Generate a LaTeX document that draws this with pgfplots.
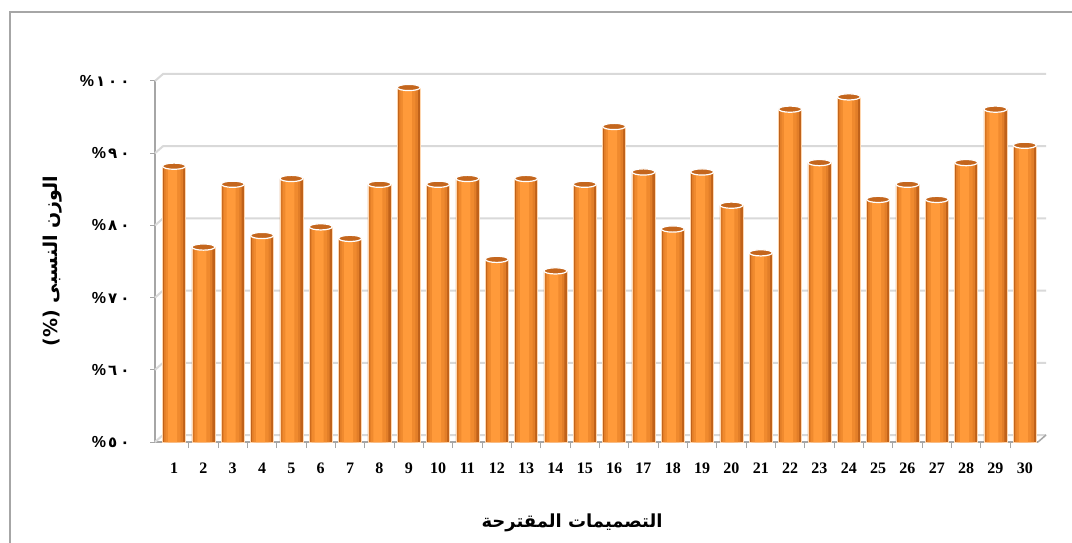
\documentclass[border=0pt]{standalone}
\usepackage{pgfplots}
\pgfplotsset{compat=1.18}
\usepackage{fontspec}
\setmainfont{Liberation Serif}
\newfontfamily\arabicfont[Script=Arabic]{DejaVu Sans}
\newfontfamily\pctfont{Liberation Sans}
\TeXXeTstate=1
\definecolor{barlight}{HTML}{FF9A3A}
\definecolor{barmid}{HTML}{F08A2E}
\definecolor{bardark}{HTML}{C0621A}
\definecolor{bartop}{HTML}{C4661D}
\definecolor{gridgray}{HTML}{D9D9D9}
\definecolor{axisgray}{HTML}{A6A6A6}
% percent sign, then spaced Arabic-Indic digits
\newcommand\pct[1]{\hbox{\pctfont\bfseries\fontsize{16}{16}\selectfont\%}\kern2pt\pctdigits#1\relax}
\def\pctdigits#1{\ifx#1\relax\else\hbox{\arabicfont\bfseries\fontsize{15}{15}\selectfont#1}\kern3pt\expandafter\pctdigits\fi}
\pgfplotstableread{
x y
1 88.2
2 77.0
3 85.7
4 78.6
5 86.5
6 79.8
7 78.2
8 85.7
9 99.1
10 85.7
11 86.5
12 75.3
13 86.5
14 73.7
15 85.7
16 93.7
17 87.4
18 79.5
19 87.4
20 82.8
21 76.2
22 96.1
23 88.7
24 97.8
25 83.6
26 85.7
27 83.6
28 88.7
29 96.1
30 91.1
}\weights
\begin{document}
\begin{tikzpicture}[x=1pt,y=1pt]
\useasboundingbox (0,0) rectangle (1072,542);
\fill[white] (0,0) rectangle (1072,542);
\draw[axisgray, line width=1.2pt] (10,-5) -- (10,530) -- (1080,530);
\begin{axis}[
    at={(155pt,100pt)}, anchor=south west,
    scale only axis,
    width=883pt, height=361pt,
    xmin=0.35, xmax=30.45,
    ymin=50, ymax=100,
    clip mode=individual,
    axis x line*=bottom, axis y line*=left,
    axis line style={axisgray, line width=1.5pt, -},
    xtick={1,...,30},
    xticklabels={1,2,3,4,5,6,7,8,9,10,11,12,13,14,15,16,17,18,19,20,21,22,23,24,25,26,27,28,29,30},
    minor x tick num=1,
    ytick={50,60,...,100},
    yticklabels={{\pct{٥٠}},{\pct{٦٠}},{\pct{٧٠}},{\pct{٨٠}},{\pct{٩٠}},{\pct{١٠٠}}},
    tick align=outside,
    major tick length=5pt,
    minor tick length=6pt,
    x tick style={draw=none},
    minor x tick style={axisgray, line width=1pt, draw=axisgray},
    y tick style={axisgray, line width=1pt},
    xticklabel style={font=\fontsize{16}{16}\selectfont\bfseries, yshift=-12pt},
    yticklabel style={xshift=-14pt},
    ybar, bar width=23pt,
  ]
  \pgfplotsinvokeforeach{50,60,...,100}{
    \draw[gridgray, line width=2pt]
      (axis cs:0.35,#1) -- ([shift={(8pt,7pt)}]axis cs:0.35,#1)
      -- ([shift={(8pt,7pt)}]axis cs:30.45,#1);
  }
  \draw[axisgray, line width=1.5pt] (axis cs:30.45,50) -- ++(8pt,7pt);
  % cylinder body built from strips: dark edges, light centre
  \addplot[draw=white!60!barlight, line width=0.5pt, fill=bardark,
           bar width=23pt, bar shift=0pt] table {\weights};
  \addplot[draw=none, fill=barmid!70!bardark, bar width=19pt, bar shift=-0.5pt] table {\weights};
  \addplot[draw=none, fill=barmid, bar width=15pt, bar shift=-1pt] table {\weights};
  \addplot[draw=none, fill=barlight, bar width=9pt, bar shift=-1.5pt] table {\weights};
  \addplot[only marks, mark=*, mark size=11.5pt, bar shift=0pt,
           mark options={yscale=0.27, fill=bartop, draw=white, line width=1.2pt}]
    table {\weights};
\end{axis}
\node[rotate=90, font=\arabicfont\fontsize{19}{19}\selectfont\bfseries]
  at (53,281) {\beginR الوزن النسبى (\%)\endR};
\node[font=\arabicfont\fontsize{18}{18}\selectfont\bfseries]
  at (572,19) {\beginR التصميمات المقترحة\endR};
\end{tikzpicture}
\end{document}
